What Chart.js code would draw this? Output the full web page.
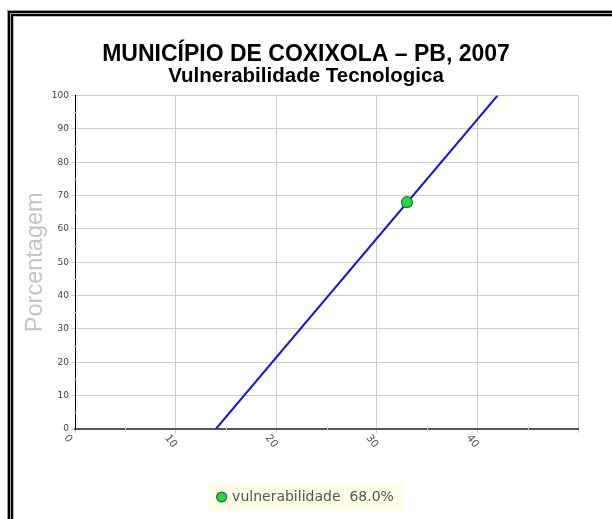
<!DOCTYPE html>
<html><head><meta charset="utf-8">
<script src="https://cdn.jsdelivr.net/npm/chart.js@4.4.1/dist/chart.umd.min.js"></script>
<style>
html,body{margin:0;padding:0;background:#fff;width:612px;height:519px;overflow:hidden}
#wrap{position:relative;width:612px;height:519px}
#c{position:absolute;left:0;top:0}
.f{position:absolute;right:-30px;bottom:-30px;border-style:solid;border-right:none;border-bottom:none}
</style></head>
<body><div id="wrap">
<div class="f" style="left:7px;top:10px;border-width:1px;border-color:#999"></div>
<div class="f" style="left:8px;top:11px;border-width:2px;border-color:#000"></div>
<div class="f" style="left:10px;top:13px;border-width:1px;border-color:#aaa"></div>
<div class="f" style="left:11px;top:14px;border-width:2px;border-color:#000"></div>
<div class="f" style="left:13px;top:16px;border-width:1px;border-color:#bbb"></div>
<canvas id="c" width="612" height="519"></canvas>
</div>
<script>
const titleText = 'MUNICÍPIO DE COXIXOLA – PB, 2007';
const subtitleText = 'Vulnerabilidade Tecnologica';
const yAxisTitle = 'Porcentagem';
const lineX = [14, 42];
const lineY = [0, 100];
const pointX = [33];
const pointY = [68];
const seriesName = 'vulnerabilidade';
const seriesValue = 68.0;
const xTickLabels = [0, 10, 20, 30, 40];
const xMinorTicks = [5, 15, 25, 35, 45];
const yMinorTicks = [5, 15, 25, 35, 45, 55, 65, 75, 85, 95];

const lineData = lineX.map((x, i) => ({x, y: lineY[i]}));
const pointData = pointX.map((x, i) => ({x, y: pointY[i]}));

const extras = {
  id: 'extras',
  beforeDraw(chart) {
    const lg = chart.legend;
    if (lg && lg.legendHitBoxes && lg.legendHitBoxes.length) {
      const hb = lg.legendHitBoxes[0];
      const ctx = chart.ctx;
      ctx.save();
      ctx.fillStyle = '#fdfde6';
      ctx.fillRect(hb.left - 10, hb.top - 6, hb.width + 20, hb.height + 12);
      ctx.restore();
    }
  },
  afterDraw(chart) {
    const ctx = chart.ctx;
    const xs = chart.scales.x, ys = chart.scales.y;
    const ca = chart.chartArea;
    ctx.save();
    ctx.strokeStyle = '#d0d0d0';
    ctx.lineWidth = 1;
    xMinorTicks.forEach(v => {
      const px = Math.round(xs.getPixelForValue(v)) + 0.5;
      ctx.beginPath(); ctx.moveTo(px, ca.bottom - 3); ctx.lineTo(px, ca.bottom + 2); ctx.stroke();
    });
    yMinorTicks.forEach(v => {
      const py = Math.round(ys.getPixelForValue(v)) + 0.5;
      ctx.beginPath(); ctx.moveTo(ca.left - 2, py); ctx.lineTo(ca.left + 2, py); ctx.stroke();
    });
    ctx.fillStyle = '#555';
    ctx.font = '10.5px "DejaVu Sans"';
    ctx.textAlign = 'left';
    ctx.textBaseline = 'middle';
    xTickLabels.forEach(v => {
      const px = xs.getPixelForValue(v);
      ctx.save();
      ctx.translate(px - 9, ca.bottom + 7);
      ctx.rotate(52 * Math.PI / 180);
      ctx.fillText(String(v), 0, 0);
      ctx.restore();
    });
    ctx.restore();
  }
};

new Chart(document.getElementById('c'), {
  type: 'scatter',
  data: {
    datasets: [
      {
        label: seriesName + '  ' + seriesValue.toFixed(1) + '%',
        data: pointData,
        pointRadius: 5.5,
        pointHoverRadius: 5.5,
        pointBackgroundColor: '#22dd33',
        pointBorderColor: '#226655',
        pointBorderWidth: 1.2,
        order: 0
      },
      {
        label: 'linha',
        data: lineData,
        showLine: true,
        borderColor: '#1515e0',
        borderWidth: 2,
        pointRadius: 0,
        order: 1
      }
    ]
  },
  plugins: [extras],
  options: {
    responsive: false,
    animation: false,
    events: [],
    layout: { padding: { left: 34, right: 34, top: 0, bottom: 5 } },
    plugins: {
      tooltip: { enabled: false },
      title: {
        display: true,
        text: titleText,
        color: '#000',
        font: { family: '"Liberation Sans", Arial', size: 23, weight: 'bold', lineHeight: 1.0 },
        padding: { top: 43, bottom: 0 }
      },
      subtitle: {
        display: true,
        text: subtitleText,
        color: '#000',
        font: { family: '"Liberation Sans", Arial', size: 20.5, weight: 'bold', lineHeight: 1.0 },
        padding: { top: 0, bottom: 9 }
      },
      legend: {
        position: 'bottom',
        labels: {
          filter: (item) => item.datasetIndex === 0,
          usePointStyle: true,
          pointStyle: 'circle',
          boxWidth: 7,
          boxHeight: 7,
          color: '#555',
          padding: 10,
          font: { family: '"DejaVu Sans"', size: 14 }
        }
      }
    },
    scales: {
      x: {
        type: 'linear',
        min: 0, max: 50,
        ticks: { display: false, stepSize: 10 },
        grid: { color: '#cccccc', lineWidth: 1, tickLength: 4, drawTicks: true },
        border: { display: true, color: '#555', width: 2 },
        afterFit: (s) => { s.height = 51; }
      },
      y: {
        min: 0, max: 100,
        ticks: { stepSize: 10, color: '#444', padding: 2, font: { family: '"DejaVu Sans"', size: 9 } },
        grid: { color: '#cccccc', lineWidth: 1, tickLength: 4 },
        border: { display: true, color: '#000', width: 1 },
        title: {
          display: true,
          text: yAxisTitle,
          color: '#c4c4c4',
          font: { family: '"Liberation Sans", Arial', size: 23.5 },
          padding: { top: -13, bottom: 0 }
        },
        afterFit: (s) => { s.width = 41; }
      }
    }
  }
});
</script>
</body></html>
